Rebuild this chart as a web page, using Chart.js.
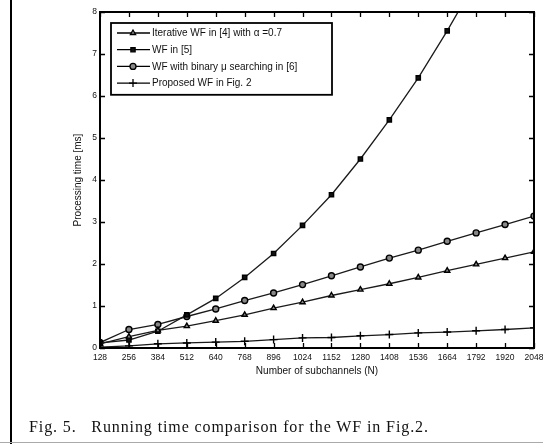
<!DOCTYPE html>
<html>
<head>
<meta charset="utf-8">
<script src="https://cdn.jsdelivr.net/npm/chart.js@4/dist/chart.umd.min.js"></script>
<style>
  html, body { margin: 0; padding: 0; background: #fff; }
  #wrap { position: relative; width: 543px; height: 444px; overflow: hidden; }
  #chart { position: absolute; left: 0; top: 0; }
  #frameLeft { position: absolute; left: 10px; top: 0; width: 2px; height: 444px; background: #000; }
  #frameBottom { position: absolute; left: 0; top: 442px; width: 543px; height: 1px; background: #aaa; }
  #caption {
    position: absolute; left: 29px; top: 418px;
    font-family: "Liberation Serif", "Times New Roman", serif;
    font-size: 16px; letter-spacing: 0.9px; color: #111; white-space: pre;
  }
</style>
</head>
<body>
<div id="wrap">
  <canvas id="chart" width="543" height="444"></canvas>
  <div id="frameLeft"></div>
  <div id="frameBottom"></div>
  <div id="caption">Fig. 5.   Running time comparison for the WF in Fig.2.</div>
</div>
<script>
  const subchannels = [128, 256, 384, 512, 640, 768, 896, 1024, 1152, 1280, 1408, 1536, 1664, 1792, 1920, 2048];
  const yTicks = [0, 1, 2, 3, 4, 5, 6, 7, 8];

  const iterativeWF = [0.10, 0.27, 0.42, 0.52, 0.65, 0.79, 0.95, 1.09, 1.25, 1.39, 1.53, 1.68, 1.84, 1.99, 2.14, 2.29];
  const wfRef5 = [0.12, 0.19, 0.40, 0.79, 1.18, 1.68, 2.25, 2.92, 3.65, 4.50, 5.43, 6.43, 7.55, 8.75, null, null];
  const binaryMuWF = [0.13, 0.44, 0.56, 0.75, 0.93, 1.13, 1.31, 1.51, 1.72, 1.93, 2.14, 2.33, 2.54, 2.74, 2.94, 3.14];
  const proposedWF = [0.02, 0.05, 0.10, 0.12, 0.14, 0.16, 0.20, 0.24, 0.25, 0.29, 0.32, 0.36, 0.38, 0.41, 0.44, 0.48];

  const seriesLabels = [
    "Iterative WF in [4] with \u03b1 =0.7",
    "WF in [5]",
    "WF with binary \u03bc searching in [6]",
    "Proposed WF in Fig. 2"
  ];

  function toPoints(values) {
    return subchannels.map((x, i) => ({ x: x, y: values[i] }));
  }

  function makeDataset(label, values, style, fill, radius) {
    return {
      label: label,
      data: toPoints(values),
      borderColor: "#1a1a1a",
      borderWidth: 1.3,
      pointStyle: style,
      pointRadius: radius,
      pointBorderWidth: 1.4,
      pointBorderColor: "#000",
      pointBackgroundColor: fill,
      tension: 0,
      spanGaps: false
    };
  }

  // inward ticks on all four sides + box, MATLAB style
  const boxTicks = {
    id: "boxTicks",
    afterDatasetsDraw(chart) {
      const { ctx, chartArea: a, scales } = chart;
      const len = 5;
      ctx.save();
      ctx.strokeStyle = "#000";
      ctx.lineWidth = 1.3;
      ctx.beginPath();
      scales.x.ticks.forEach((t) => {
        const px = Math.round(scales.x.getPixelForValue(t.value)) + 0.5;
        ctx.moveTo(px, a.bottom); ctx.lineTo(px, a.bottom - len);
        ctx.moveTo(px, a.top); ctx.lineTo(px, a.top + len);
      });
      scales.y.ticks.forEach((t) => {
        const py = Math.round(scales.y.getPixelForValue(t.value)) + 0.5;
        ctx.moveTo(a.left, py); ctx.lineTo(a.left + len, py);
        ctx.moveTo(a.right, py); ctx.lineTo(a.right - len, py);
      });
      ctx.stroke();
      ctx.lineWidth = 2;
      ctx.strokeRect(a.left, a.top, a.right - a.left, a.bottom - a.top);
      ctx.restore();
    }
  };

  // boxed legend inside the plot, top-left
  const insideLegend = {
    id: "insideLegend",
    afterDraw(chart) {
      const { ctx, chartArea: a } = chart;
      const x0 = a.left + 11, y0 = a.top + 11;
      const w = 221, rowH = 16.7;
      const h = rowH * chart.data.datasets.length + 5;
      ctx.save();
      ctx.fillStyle = "#fff";
      ctx.fillRect(x0, y0, w, h);
      ctx.strokeStyle = "#000";
      ctx.lineWidth = 1.8;
      ctx.strokeRect(x0, y0, w, h);
      ctx.font = "10px 'Liberation Sans', Arial, sans-serif";
      ctx.textBaseline = "middle";
      chart.data.datasets.forEach((ds, i) => {
        const y = y0 + 10 + i * rowH;
        ctx.strokeStyle = "#000";
        ctx.lineWidth = 1.3;
        ctx.beginPath();
        ctx.moveTo(x0 + 6, y);
        ctx.lineTo(x0 + 39, y);
        ctx.stroke();
        ctx.fillStyle = ds.pointBackgroundColor;
        Chart.helpers.drawPoint(ctx, {
          pointStyle: ds.pointStyle,
          radius: ds.pointRadius,
          borderWidth: ds.pointBorderWidth,
          rotation: 0
        }, x0 + 22, y);
        ctx.fillStyle = "#111";
        ctx.fillText(ds.label, x0 + 41, y + 0.5);
      });
      ctx.restore();
    }
  };

  new Chart(document.getElementById("chart"), {
    type: "line",
    data: {
      datasets: [
        makeDataset(seriesLabels[0], iterativeWF, "triangle", "#888", 3),
        makeDataset(seriesLabels[1], wfRef5, "rect", "#111", 3),
        makeDataset(seriesLabels[2], binaryMuWF, "circle", "#888", 3),
        makeDataset(seriesLabels[3], proposedWF, "cross", "#000", 4)
      ]
    },
    options: {
      responsive: false,
      animation: false,
      layout: { padding: { left: 66, top: 12, right: 9, bottom: 66 } },
      plugins: {
        legend: { display: false },
        tooltip: { enabled: false }
      },
      scales: {
        x: {
          type: "linear",
          min: 128,
          max: 2048,
          afterBuildTicks: (axis) => { axis.ticks = subchannels.map((v) => ({ value: v })); },
          afterFit: (axis) => {
            axis.height = 30;
            axis.paddingLeft = 0;
            axis.paddingRight = 0;
          },
          grid: { display: false, drawTicks: false },
          border: { display: false },
          ticks: {
            color: "#111",
            padding: 5,
            maxRotation: 0,
            autoSkip: false,
            font: { family: "'Liberation Sans', Arial, sans-serif", size: 8.5 },
            callback: (v) => String(v)
          },
          title: {
            display: true,
            text: "Number of subchannels (N)",
            color: "#111",
            padding: { top: 0, bottom: 1 },
            font: { family: "'Liberation Sans', Arial, sans-serif", size: 10 }
          }
        },
        y: {
          min: 0,
          max: 8,
          afterBuildTicks: (axis) => { axis.ticks = yTicks.map((v) => ({ value: v })); },
          afterFit: (axis) => { axis.width = 34; },
          grid: { display: false, drawTicks: false },
          border: { display: false },
          ticks: {
            color: "#111",
            padding: 3,
            font: { family: "'Liberation Sans', Arial, sans-serif", size: 8.5 }
          },
          title: {
            display: true,
            text: "Processing time [ms]",
            color: "#111",
            padding: { top: 6, bottom: 0 },
            font: { family: "'Liberation Sans', Arial, sans-serif", size: 10 }
          }
        }
      }
    },
    plugins: [boxTicks, insideLegend]
  });
</script>
</body>
</html>
